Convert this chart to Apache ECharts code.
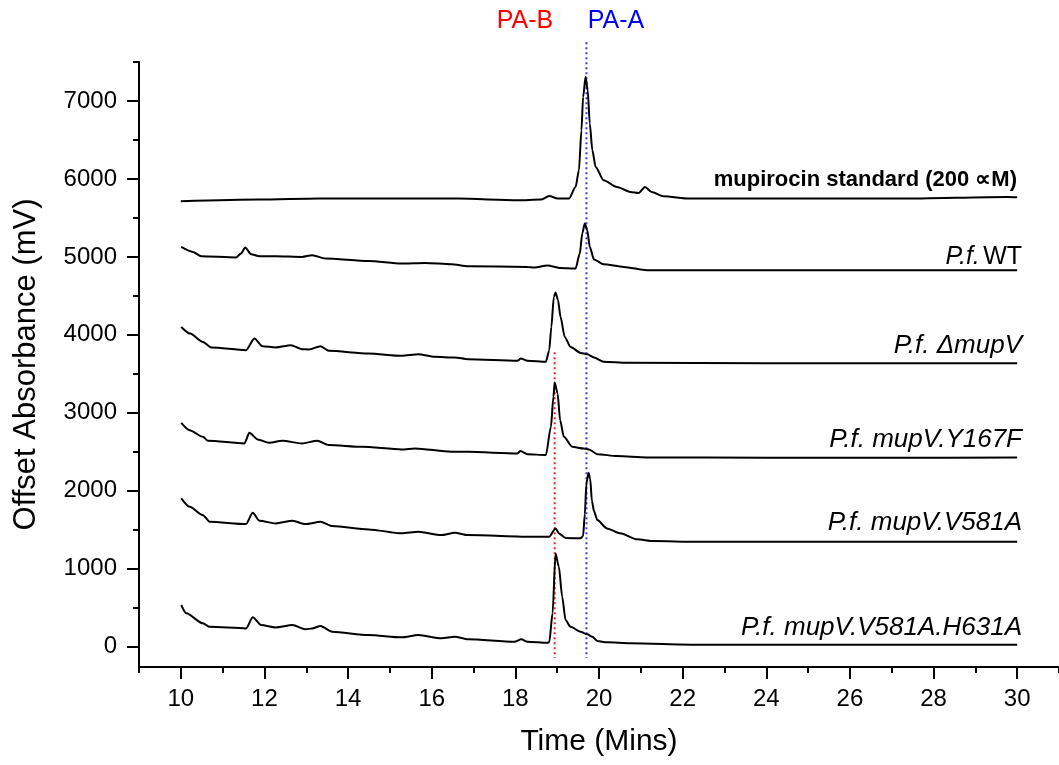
<!DOCTYPE html>
<html><head><meta charset="utf-8">
<script src="https://cdn.jsdelivr.net/npm/echarts@6/dist/echarts.min.js"></script>
<style>html,body{margin:0;padding:0;background:#fff}#c{width:1059px;height:765px}</style>
</head><body><div id="c"></div>
<script>
// ---- Data (time in minutes, offset absorbance in mV) ----
const seriesNames = ['mupirocin standard (200 ∝M)', 'P.f. WT', 'P.f. ΔmupV', 'P.f. mupV.Y167F', 'P.f. mupV.V581A', 'P.f. mupV.V581A.H631A'];

const mupT = [10.0, 11.88, 13.30, 16.63, 18.05, 18.61, 18.81, 19.01, 19.28, 19.44, 19.52, 19.58, 19.62, 19.68, 19.73, 19.78, 19.84, 19.92, 20.11, 20.43, 20.75, 20.95, 21.10, 21.26, 21.54, 22.17, 22.81, 24.63, 27.24, 29.77, 30.0];
const mupV = [5714, 5735, 5748, 5748, 5727, 5735, 5782, 5748, 5748, 5897, 6111, 6624, 7051, 7310, 7137, 6710, 6368, 6154, 5983, 5897, 5833, 5820, 5897, 5833, 5778, 5748, 5748, 5748, 5748, 5770, 5765];

const wtT = [10.01, 10.29, 10.49, 11.32, 11.44, 11.54, 11.68, 11.88, 12.27, 12.90, 13.14, 13.46, 14.49, 15.28, 15.84, 16.47, 16.87, 18.29, 18.45, 18.77, 19.08, 19.44, 19.54, 19.60, 19.66, 19.72, 19.78, 19.88, 20.11, 20.59, 21.14, 24.0, 27.0, 30.0];
const wtV = [5128, 5064, 5009, 4992, 5043, 5120, 5034, 5009, 5009, 5000, 5022, 4979, 4948, 4915, 4923, 4906, 4880, 4872, 4864, 4890, 4859, 4851, 5043, 5300, 5428, 5342, 5128, 4966, 4906, 4872, 4829, 4830, 4828, 4830];

const dmT = [10.01, 10.22, 10.53, 10.73, 11.56, 11.76, 11.95, 12.27, 12.63, 12.90, 13.06, 13.34, 13.54, 14.49, 15.28, 15.68, 16.07, 16.55, 16.87, 18.05, 18.13, 18.29, 18.73, 18.81, 18.86, 18.92, 18.96, 19.02, 19.08, 19.18, 19.32, 19.56, 19.72, 19.88, 20.11, 20.67, 24.0, 27.0, 30.0];
const dmV = [4102, 4018, 3910, 3838, 3804, 3954, 3855, 3838, 3868, 3817, 3813, 3855, 3795, 3761, 3731, 3752, 3718, 3710, 3688, 3667, 3697, 3667, 3654, 3804, 4102, 4487, 4545, 4445, 4231, 3974, 3846, 3769, 3752, 3710, 3654, 3641, 3635, 3635, 3636];

const yfT = [10.01, 10.21, 10.53, 10.65, 11.52, 11.64, 11.84, 12.11, 12.43, 12.90, 13.26, 13.54, 14.33, 15.28, 15.60, 16.47, 16.87, 18.05, 18.12, 18.29, 18.73, 18.85, 18.91, 18.94, 19.01, 19.07, 19.16, 19.36, 19.64, 19.76, 19.96, 20.43, 21.14, 24.0, 27.0, 30.0];
const yfV = [2872, 2778, 2692, 2641, 2608, 2744, 2659, 2615, 2641, 2608, 2641, 2586, 2564, 2531, 2544, 2500, 2500, 2479, 2509, 2470, 2458, 2820, 3205, 3390, 3249, 2906, 2692, 2564, 2543, 2531, 2470, 2445, 2428, 2425, 2425, 2426];

const vaT = [10.01, 10.21, 10.53, 10.69, 11.56, 11.72, 11.88, 12.27, 12.67, 12.98, 13.34, 13.62, 14.49, 15.28, 15.68, 16.23, 16.55, 16.87, 18.45, 18.81, 18.96, 19.05, 19.20, 19.56, 19.62, 19.66, 19.70, 19.75, 19.79, 19.83, 19.88, 19.96, 20.19, 20.51, 20.91, 21.30, 22.33, 26.0, 30.0];
const vaV = [1902, 1795, 1688, 1603, 1573, 1718, 1615, 1582, 1615, 1573, 1603, 1547, 1505, 1454, 1474, 1432, 1462, 1432, 1410, 1410, 1518, 1450, 1395, 1390, 1420, 1700, 2100, 2230, 2150, 1870, 1740, 1624, 1518, 1454, 1377, 1355, 1346, 1345, 1346];

const vhT = [10.01, 10.13, 10.53, 10.69, 11.56, 11.72, 11.92, 12.27, 12.67, 12.98, 13.14, 13.34, 13.62, 14.49, 15.28, 15.68, 16.23, 16.55, 16.87, 17.98, 18.14, 18.29, 18.77, 18.81, 18.89, 18.96, 19.04, 19.12, 19.20, 19.32, 19.56, 19.72, 19.84, 19.96, 20.19, 20.75, 22.33, 26.0, 30.0];
const vhV = [535, 428, 300, 256, 235, 377, 278, 248, 278, 223, 235, 265, 192, 150, 120, 150, 108, 128, 95, 64, 95, 64, 51, 56, 432, 1197, 1026, 641, 342, 256, 192, 159, 128, 73, 56, 44, 26, 25, 25];

// reference lines (retention times) and their vertical extents
const paB = {name: 'PA-B', t: 18.94, from: -145, to: 3778};
const paA = {name: 'PA-A', t: 19.70, from: -145, to: 7752};

const xLabelTicks = [10, 12, 14, 16, 18, 20, 22, 24, 26, 28, 30];
const xMinorTicks = [9, 11, 13, 15, 17, 19, 21, 23, 25, 27, 29, 31];
const yLabelTicks = [0, 1000, 2000, 3000, 4000, 5000, 6000, 7000];
const yMinorTicks = [500, 1500, 2500, 3500, 4500, 5500, 6500, 7500];

// ---- Chart ----
const FONT = 'Liberation Sans, Arial, sans-serif';
const zip = (a, b) => a.map((v, i) => [v, b[i]]);
const traces = [[mupT, mupV], [wtT, wtV], [dmT, dmV], [yfT, yfV], [vaT, vaV], [vhT, vhV]];

const chart = echarts.init(document.getElementById('c'), null, {renderer: 'canvas'});

const series = traces.map((tr, i) => ({
  name: seriesNames[i], type: 'line', data: zip(tr[0], tr[1]),
  showSymbol: false, symbol: 'none', smooth: 0.25, smoothMonotone: 'x',
  lineStyle: {color: '#000', width: 2}, silent: true, z: 3
}));
[[paB, '#ff1a1a'], [paA, '#3333ff']].forEach(([m, col]) => {
  series.push({
    type: 'line', data: [[m.t, m.to], [m.t, m.from]], clip: false,
    showSymbol: false, symbol: 'none', silent: true, z: 2,
    lineStyle: {color: col, width: 2, type: [2, 3]}
  });
});

const axisLine = {show: true, onZero: false, lineStyle: {color: '#000', width: 2}};
const tickStyle = {color: '#000', width: 2};
const option = {
  backgroundColor: '#fff',
  animation: false,
  grid: {left: 139, top: 62, right: -6, bottom: 98, containLabel: false},
  xAxis: [{
    type: 'value', min: 9, max: 31,
    axisLine: axisLine, splitLine: {show: false},
    axisTick: {show: true, length: 12, customValues: xLabelTicks, lineStyle: tickStyle},
    axisLabel: {customValues: xLabelTicks, margin: 20, color: '#000', fontSize: 24, fontFamily: FONT, formatter: v => String(v)},
    name: 'Time (Mins)', nameLocation: 'middle', nameGap: 60,
    nameTextStyle: {fontSize: 30, color: '#000', fontFamily: FONT}
  }, {
    type: 'value', min: 9, max: 31, position: 'bottom',
    axisLine: {show: false, onZero: false}, splitLine: {show: false}, axisLabel: {show: false},
    axisTick: {show: true, length: 6, customValues: xMinorTicks, lineStyle: tickStyle}
  }],
  yAxis: [{
    type: 'value', min: -260, max: 7500,
    axisLine: axisLine, splitLine: {show: false},
    axisTick: {show: true, length: 12, customValues: yLabelTicks, lineStyle: tickStyle},
    axisLabel: {customValues: yLabelTicks, margin: 22, color: '#000', fontSize: 24, fontFamily: FONT, formatter: v => String(v)},
    name: 'Offset Absorbance (mV)', nameLocation: 'middle', nameGap: 97,
    nameTextStyle: {fontSize: 31, color: '#000', fontFamily: FONT}
  }, {
    type: 'value', min: -260, max: 7500, position: 'left',
    axisLine: {show: false, onZero: false}, splitLine: {show: false}, axisLabel: {show: false},
    axisTick: {show: true, length: 6, customValues: yMinorTicks, lineStyle: tickStyle}
  }],
  series: series,
  graphic: [
    {type: 'text', x: 525, y: 21, style: {text: paB.name, fill: '#ff0000', fontSize: 25, fontFamily: FONT, align: 'center', verticalAlign: 'middle'}},
    {type: 'text', x: 616, y: 21, style: {text: paA.name, fill: '#0000ff', fontSize: 25, fontFamily: FONT, align: 'center', verticalAlign: 'middle'}},
    {type: 'text', x: 1017, y: 180, style: {text: seriesNames[0], fill: '#000', fontSize: 22, fontWeight: 'bold', fontFamily: FONT, align: 'right', verticalAlign: 'middle'}},
    {type: 'text', x: 1022, y: 257, style: {text: '{i|P.f.} {n|WT}', align: 'right', verticalAlign: 'middle',
      rich: {i: {fontSize: 25, fontStyle: 'italic', fontFamily: FONT, fill: '#000'}, n: {fontSize: 25, fontFamily: FONT, fill: '#000'}}}},
    {type: 'text', x: 1022, y: 346, style: {text: seriesNames[2], fill: '#000', fontSize: 26, fontStyle: 'italic', fontFamily: FONT, align: 'right', verticalAlign: 'middle'}},
    {type: 'text', x: 1022, y: 440, style: {text: seriesNames[3], fill: '#000', fontSize: 26, fontStyle: 'italic', fontFamily: FONT, align: 'right', verticalAlign: 'middle'}},
    {type: 'text', x: 1022, y: 523, style: {text: seriesNames[4], fill: '#000', fontSize: 26, fontStyle: 'italic', fontFamily: FONT, align: 'right', verticalAlign: 'middle'}},
    {type: 'text', x: 1022, y: 628, style: {text: seriesNames[5], fill: '#000', fontSize: 26, fontStyle: 'italic', fontFamily: FONT, align: 'right', verticalAlign: 'middle'}}
  ]
};
chart.setOption(option);
</script>
</body></html>
